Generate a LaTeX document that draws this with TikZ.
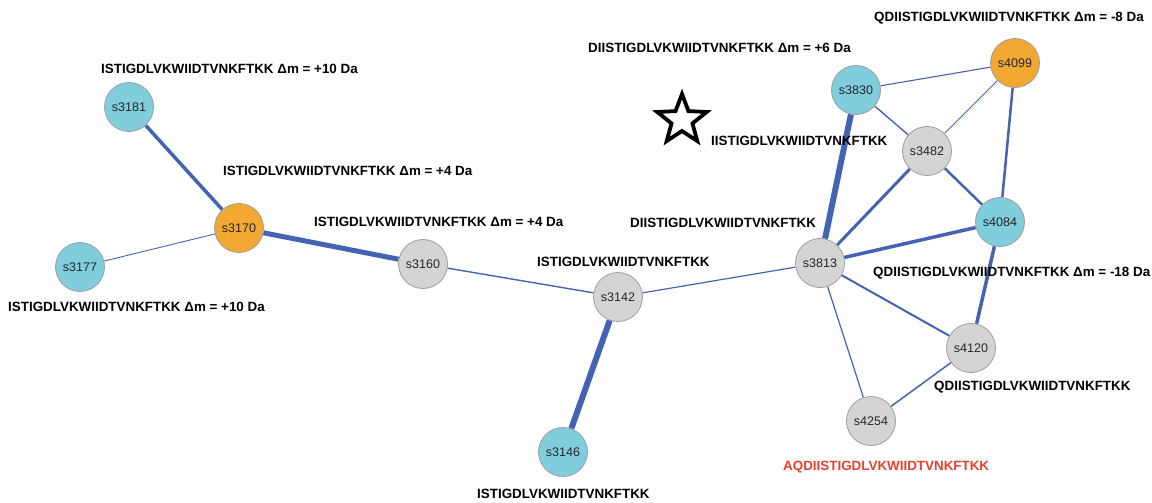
\documentclass[tikz,border=0pt]{standalone}
\usepackage{fontspec}
\setmainfont{Liberation Sans}
\usetikzlibrary{backgrounds}
\definecolor{cyanfill}{HTML}{80CDDD}
\definecolor{orangefill}{HTML}{F2A833}
\definecolor{grayfill}{HTML}{D4D4D4}
\definecolor{nodeborder}{HTML}{9E9E9E}
\definecolor{edgeblue}{HTML}{4463B3}
\definecolor{redtext}{HTML}{E8402A}
\tikzset{
  vertex/.style={circle, minimum size=49pt, inner sep=0pt, draw=nodeborder, line width=0.8pt,
    font=\fontsize{12.5}{14}\selectfont, text=black!85},
  cy/.style={vertex, fill=cyanfill},
  og/.style={vertex, fill=orangefill},
  gy/.style={vertex, fill=grayfill},
  seq/.style={anchor=west, inner sep=0pt, font=\bfseries\fontsize{13.4}{15}\selectfont, text=black},
  link/.style={draw=edgeblue, line width=#1pt},
  starline/.style={draw=black, line width=3.8pt, line join=miter, fill=white}
}
\begin{document}
\begin{tikzpicture}[x=1pt, y=-1pt]
\useasboundingbox (0,0) rectangle (1152,503);
% nodes
\node[cy] (s3181) at (129,107) {s3181};
\node[og] (s3170) at (239,228) {s3170};
\node[cy] (s3177) at (80,267) {s3177};
\node[gy] (s3160) at (423,264) {s3160};
\node[gy] (s3142) at (618,297) {s3142};
\node[cy] (s3146) at (563,452) {s3146};
\node[gy] (s3813) at (820,263) {s3813};
\node[cy] (s3830) at (856,90) {s3830};
\node[og] (s4099) at (1015,63) {s4099};
\node[gy] (s3482) at (927,151) {s3482};
\node[cy] (s4084) at (1000,222) {s4084};
\node[gy] (s4120) at (971,348) {s4120};
\node[gy] (s4254) at (871,421) {s4254};
% edges
\begin{pgfonlayer}{background}
\draw[link=3.5] (s3181) -- (s3170);
\draw[link=0.9] (s3177) -- (s3170);
\draw[link=5] (s3170) -- (s3160);
\draw[link=1.4] (s3160) -- (s3142);
\draw[link=1.2] (s3142) -- (s3813);
\draw[link=6] (s3142) -- (s3146);
\draw[link=6] (s3813) -- (s3830);
\draw[link=3] (s3813) -- (s3482);
\draw[link=3.5] (s3813) -- (s4084);
\draw[link=2] (s3813) -- (s4120);
\draw[link=1.2] (s3813) -- (s4254);
\draw[link=1.5] (s4120) -- (s4254);
\draw[link=3.5] (s4084) -- (s4120);
\draw[link=2.5] (s4099) -- (s4084);
\draw[link=1.1] (s3830) -- (s4099);
\draw[link=1.4] (s3830) -- (s3482);
\draw[link=0.9] (s3482) -- (s4099);
\draw[link=2.5] (s3482) -- (s4084);
\end{pgfonlayer}
% star
\coordinate (sc) at (682,120);
\draw[starline] ([shift={(270:26)}]sc) -- ([shift={(306:11)}]sc) -- ([shift={(342:26)}]sc)
  -- ([shift={(18:11)}]sc) -- ([shift={(54:26)}]sc) -- ([shift={(90:11)}]sc)
  -- ([shift={(126:26)}]sc) -- ([shift={(162:11)}]sc) -- ([shift={(198:26)}]sc)
  -- ([shift={(234:11)}]sc) -- cycle;
% labels
\node[seq] (l3181) at (101,69) {ISTIGDLVKWIIDTVNKFTKK Δm = +10 Da};
\node[seq] (l3170) at (223,171) {ISTIGDLVKWIIDTVNKFTKK Δm = +4 Da};
\node[seq] (l3160) at (314,222) {ISTIGDLVKWIIDTVNKFTKK Δm = +4 Da};
\node[seq] (l3177) at (8,307) {ISTIGDLVKWIIDTVNKFTKK Δm = +10 Da};
\node[seq] (l3142) at (537,262) {ISTIGDLVKWIIDTVNKFTKK};
\node[seq] (l3146) at (477,494) {ISTIGDLVKWIIDTVNKFTKK};
\node[seq] (l3830) at (588,48) {DIISTIGDLVKWIIDTVNKFTKK Δm = +6 Da};
\node[seq] (l4099) at (874,18) {QDIISTIGDLVKWIIDTVNKFTKK Δm = -8 Da};
\node[seq] (lstar) at (711,141) {IISTIGDLVKWIIDTVNKFTKK};
\node[seq] (l3813) at (630,223) {DIISTIGDLVKWIIDTVNKFTKK};
\node[seq] (l4084) at (873,273) {QDIISTIGDLVKWIIDTVNKFTKK Δm = -18 Da};
\node[seq] (l4120) at (934,387) {QDIISTIGDLVKWIIDTVNKFTKK};
\node[seq, text=redtext] (l4254) at (783,467) {AQDIISTIGDLVKWIIDTVNKFTKK};
\end{tikzpicture}
\end{document}
